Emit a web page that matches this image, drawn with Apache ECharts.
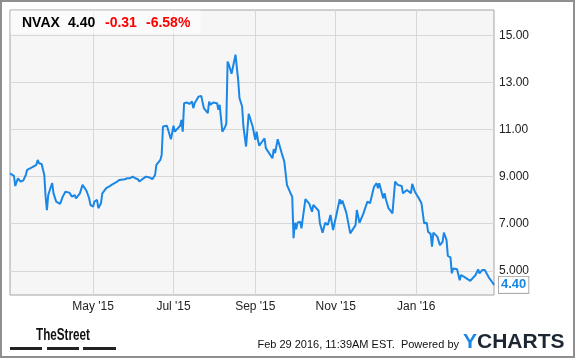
<!DOCTYPE html>
<html><head><meta charset="utf-8">
<script src="https://cdn.jsdelivr.net/npm/echarts@6/dist/echarts.min.js"></script>
<style>html,body{margin:0;padding:0;background:#fff;}#c{width:575px;height:358px;}</style>
</head><body><div id="c"></div>
<script>
// ---- data ----
var dates = ['2015-02-27','2015-03-02','2015-03-03','2015-03-05','2015-03-07','2015-03-09','2015-03-11','2015-03-12','2015-03-16','2015-03-19','2015-03-20','2015-03-21','2015-03-23','2015-03-25','2015-03-26','2015-03-27','2015-03-28','2015-03-30','2015-03-31','2015-04-01','2015-04-03','2015-04-06','2015-04-08','2015-04-10','2015-04-13','2015-04-15','2015-04-17','2015-04-18','2015-04-21','2015-04-23','2015-04-26','2015-04-28','2015-04-29','2015-05-01','2015-05-02','2015-05-04','2015-05-05','2015-05-07','2015-05-08','2015-05-11','2015-05-13','2015-05-15','2015-05-18','2015-05-21','2015-05-25','2015-05-27','2015-05-28','2015-05-29','2015-05-31','2015-06-02','2015-06-04','2015-06-05','2015-06-10','2015-06-13','2015-06-15','2015-06-17','2015-06-18','2015-06-19','2015-06-21','2015-06-22','2015-06-23','2015-06-24','2015-06-26','2015-06-29','2015-07-01','2015-07-02','2015-07-06','2015-07-07','2015-07-08','2015-07-09','2015-07-11','2015-07-13','2015-07-15','2015-07-16','2015-07-17','2015-07-20','2015-07-22','2015-07-24','2015-07-27','2015-07-28','2015-07-29','2015-07-31','2015-08-03','2015-08-04','2015-08-05','2015-08-07','2015-08-09','2015-08-10','2015-08-11','2015-08-12','2015-08-14','2015-08-17','2015-08-19','2015-08-20','2015-08-22','2015-08-23','2015-08-25','2015-08-27','2015-08-28','2015-08-30','2015-09-01','2015-09-02','2015-09-03','2015-09-04','2015-09-08','2015-09-09','2015-09-14','2015-09-15','2015-09-16','2015-09-18','2015-09-21','2015-09-23','2015-09-25','2015-09-28','2015-09-29','2015-09-30','2015-10-01','2015-10-02','2015-10-03','2015-10-05','2015-10-06','2015-10-09','2015-10-12','2015-10-14','2015-10-15','2015-10-19','2015-10-20','2015-10-22','2015-10-24','2015-10-26','2015-10-28','2015-10-30','2015-11-02','2015-11-04','2015-11-05','2015-11-06','2015-11-09','2015-11-12','2015-11-16','2015-11-17','2015-11-19','2015-11-22','2015-11-25','2015-11-27','2015-11-30','2015-12-02','2015-12-03','2015-12-04','2015-12-07','2015-12-08','2015-12-09','2015-12-11','2015-12-14','2015-12-16','2015-12-18','2015-12-21','2015-12-22','2015-12-25','2015-12-28','2015-12-29','2015-12-31','2016-01-03','2016-01-05','2016-01-07','2016-01-09','2016-01-10','2016-01-12','2016-01-13','2016-01-14','2016-01-17','2016-01-19','2016-01-21','2016-01-22','2016-01-24','2016-01-25','2016-01-27','2016-01-28','2016-01-29','2016-02-01','2016-02-03','2016-02-04','2016-02-07','2016-02-11','2016-02-15','2016-02-17','2016-02-18','2016-02-20','2016-02-22','2016-02-25','2016-02-26','2016-02-28','2016-02-29'];
var prices = [9.14,9.03,8.60,8.93,8.79,8.83,9.07,9.29,9.40,9.50,9.71,9.57,9.54,9.07,8.15,7.58,8.22,8.57,8.72,8.29,7.94,7.84,8.15,8.36,8.32,8.15,8.22,8.08,8.29,8.65,8.40,8.08,7.80,7.72,7.94,8.01,7.66,7.87,8.29,8.51,8.57,8.65,8.74,8.86,8.89,8.93,9.00,8.93,9.00,8.93,8.89,8.79,9.00,8.96,8.89,9.07,9.50,9.43,9.71,9.92,11.13,11.20,11.16,10.59,11.16,10.91,11.16,11.41,10.91,12.12,12.15,12.09,12.19,11.91,12.12,12.40,12.43,11.91,11.70,12.19,12.05,12.15,12.12,11.84,12.05,10.91,11.10,11.24,13.89,13.75,13.37,14.18,13.11,12.34,11.98,11.13,10.28,11.67,11.63,11.13,10.56,10.91,10.56,10.31,10.63,10.21,9.78,10.17,10.00,10.59,10.00,9.64,8.65,8.26,8.15,6.38,7.04,6.76,7.04,7.09,6.80,8.04,7.84,7.51,7.80,7.55,7.02,6.62,7.04,6.94,7.37,6.73,7.51,8.04,7.84,7.98,7.47,6.59,6.94,7.58,7.04,7.44,7.94,7.87,8.57,8.72,8.51,8.72,8.08,8.29,8.04,7.66,7.44,8.79,8.65,8.60,8.29,8.43,8.29,8.69,8.36,8.08,7.87,7.02,7.04,6.66,6.56,6.02,6.62,6.45,6.09,6.23,6.62,6.31,5.63,5.57,4.89,5.10,5.06,4.60,4.82,4.72,4.57,4.82,5.06,4.89,5.03,5.03,4.72,4.74,4.49,4.40];
var xTickDates = ['2015-05-01','2015-07-01','2015-09-01','2015-11-01','2016-01-01'];
var xTickLabels = ["May '15","Jul '15","Sep '15","Nov '15","Jan '16"];
var yTickValues = [5,7,9,11,13,15];
var yTickLabels = ['5.000','7.000','9.000','11.00','13.00','15.00'];
var xStart = '2015-02-27', xEnd = '2016-02-29';
var ticker = 'NVAX', lastPrice = '4.40', change = '-0.31', changePct = '-6.58%';
var stamp = 'Feb 29 2016, 11:39AM EST.  Powered by';

function ts(d){ var p = d.split('-'); return Date.UTC(+p[0], +p[1]-1, +p[2]); }
var seriesData = dates.map(function(d,i){ return [ts(d), prices[i]]; });
var xTickTs = xTickDates.map(ts);

var chart = echarts.init(document.getElementById('c'), null, {renderer:'canvas'});
var F = '"Liberation Sans", Arial, sans-serif';
chart.setOption({
  animation:false,
  backgroundColor:'#ffffff',
  grid:{left:10, top:10, right:81, bottom:63, show:true, backgroundColor:'#f6f6f6', borderColor:'#a3a3a3', borderWidth:1},
  xAxis:{
    type:'value', min:ts(xStart), max:ts(xEnd),
    axisLine:{show:false}, axisTick:{show:false, customValues:xTickTs},
    splitLine:{show:true, lineStyle:{color:'#d8d8d8', width:1}},
    axisLabel:{customValues:xTickTs, color:'#222', fontFamily:F, fontSize:12, margin:6,
      formatter:function(v){ var k = xTickTs.indexOf(v); return k>=0 ? xTickLabels[k] : ''; }}
  },
  yAxis:{
    type:'value', position:'right', min:3.97, max:16.08,
    axisLine:{show:false}, axisTick:{show:false, customValues:yTickValues},
    splitLine:{show:true, lineStyle:{color:'#d8d8d8', width:1}},
    axisLabel:{customValues:yTickValues, color:'#222', fontFamily:F, fontSize:12, margin:5,
      formatter:function(v){ var k = yTickValues.indexOf(v); return k>=0 ? yTickLabels[k] : ''; }}
  },
  series:[{
    type:'line', data:seriesData, showSymbol:false, symbol:'none',
    lineStyle:{color:'#1a87e6', width:2}, clip:true,
    endLabel:{show:true, distance:5, formatter:function(){ return lastPrice; },
      color:'#1a87e6', fontFamily:F, fontWeight:'bold', fontSize:13,
      backgroundColor:'#fff', borderColor:'#aaa', borderWidth:1, padding:[2,2,1,2]}
  }],
  graphic:[
    {type:'rect', shape:{x:1,y:1,width:573,height:356}, style:{fill:'none', stroke:'#8f8f8f', lineWidth:2}, z:100},
    {type:'rect', shape:{x:10.5,y:10.5,width:190,height:23}, style:{fill:'rgba(255,255,255,0.6)'}, z:50},
    {type:'text', x:22, y:23, style:{text:ticker, font:'bold 14px '+F, fill:'#000', verticalAlign:'middle'}, z:51},
    {type:'text', x:68, y:23, style:{text:lastPrice, font:'bold 14px '+F, fill:'#000', verticalAlign:'middle'}, z:51},
    {type:'text', x:105, y:23, style:{text:change, font:'bold 14px '+F, fill:'#f00', verticalAlign:'middle'}, z:51},
    {type:'text', x:146, y:23, style:{text:changePct, font:'bold 14px '+F, fill:'#f00', verticalAlign:'middle'}, z:51},
    {type:'text', x:63, y:336, scaleX:0.73, style:{text:'TheStreet', font:'bold 16px "Liberation Sans", Arial', fill:'#111', align:'center', verticalAlign:'middle'}},
    {type:'rect', shape:{x:10,y:347,width:32,height:3}, style:{fill:'#222'}},
    {type:'rect', shape:{x:47,y:347,width:32,height:3}, style:{fill:'#222'}},
    {type:'rect', shape:{x:83,y:347,width:33,height:3}, style:{fill:'#222'}},
    {type:'text', x:459, y:345, style:{text:stamp, font:'11px '+F, fill:'#111', align:'right', verticalAlign:'middle'}},
    {type:'text', x:463, y:342, style:{text:'{y|Y}{c|CHARTS}', verticalAlign:'middle',
      rich:{y:{fontFamily:F, fontWeight:'bold', fontSize:21, fill:'#1a87e6'}, c:{fontFamily:F, fontWeight:'bold', fontSize:21, fill:'#1c2733'}}}}
  ]
});
</script></body></html>
